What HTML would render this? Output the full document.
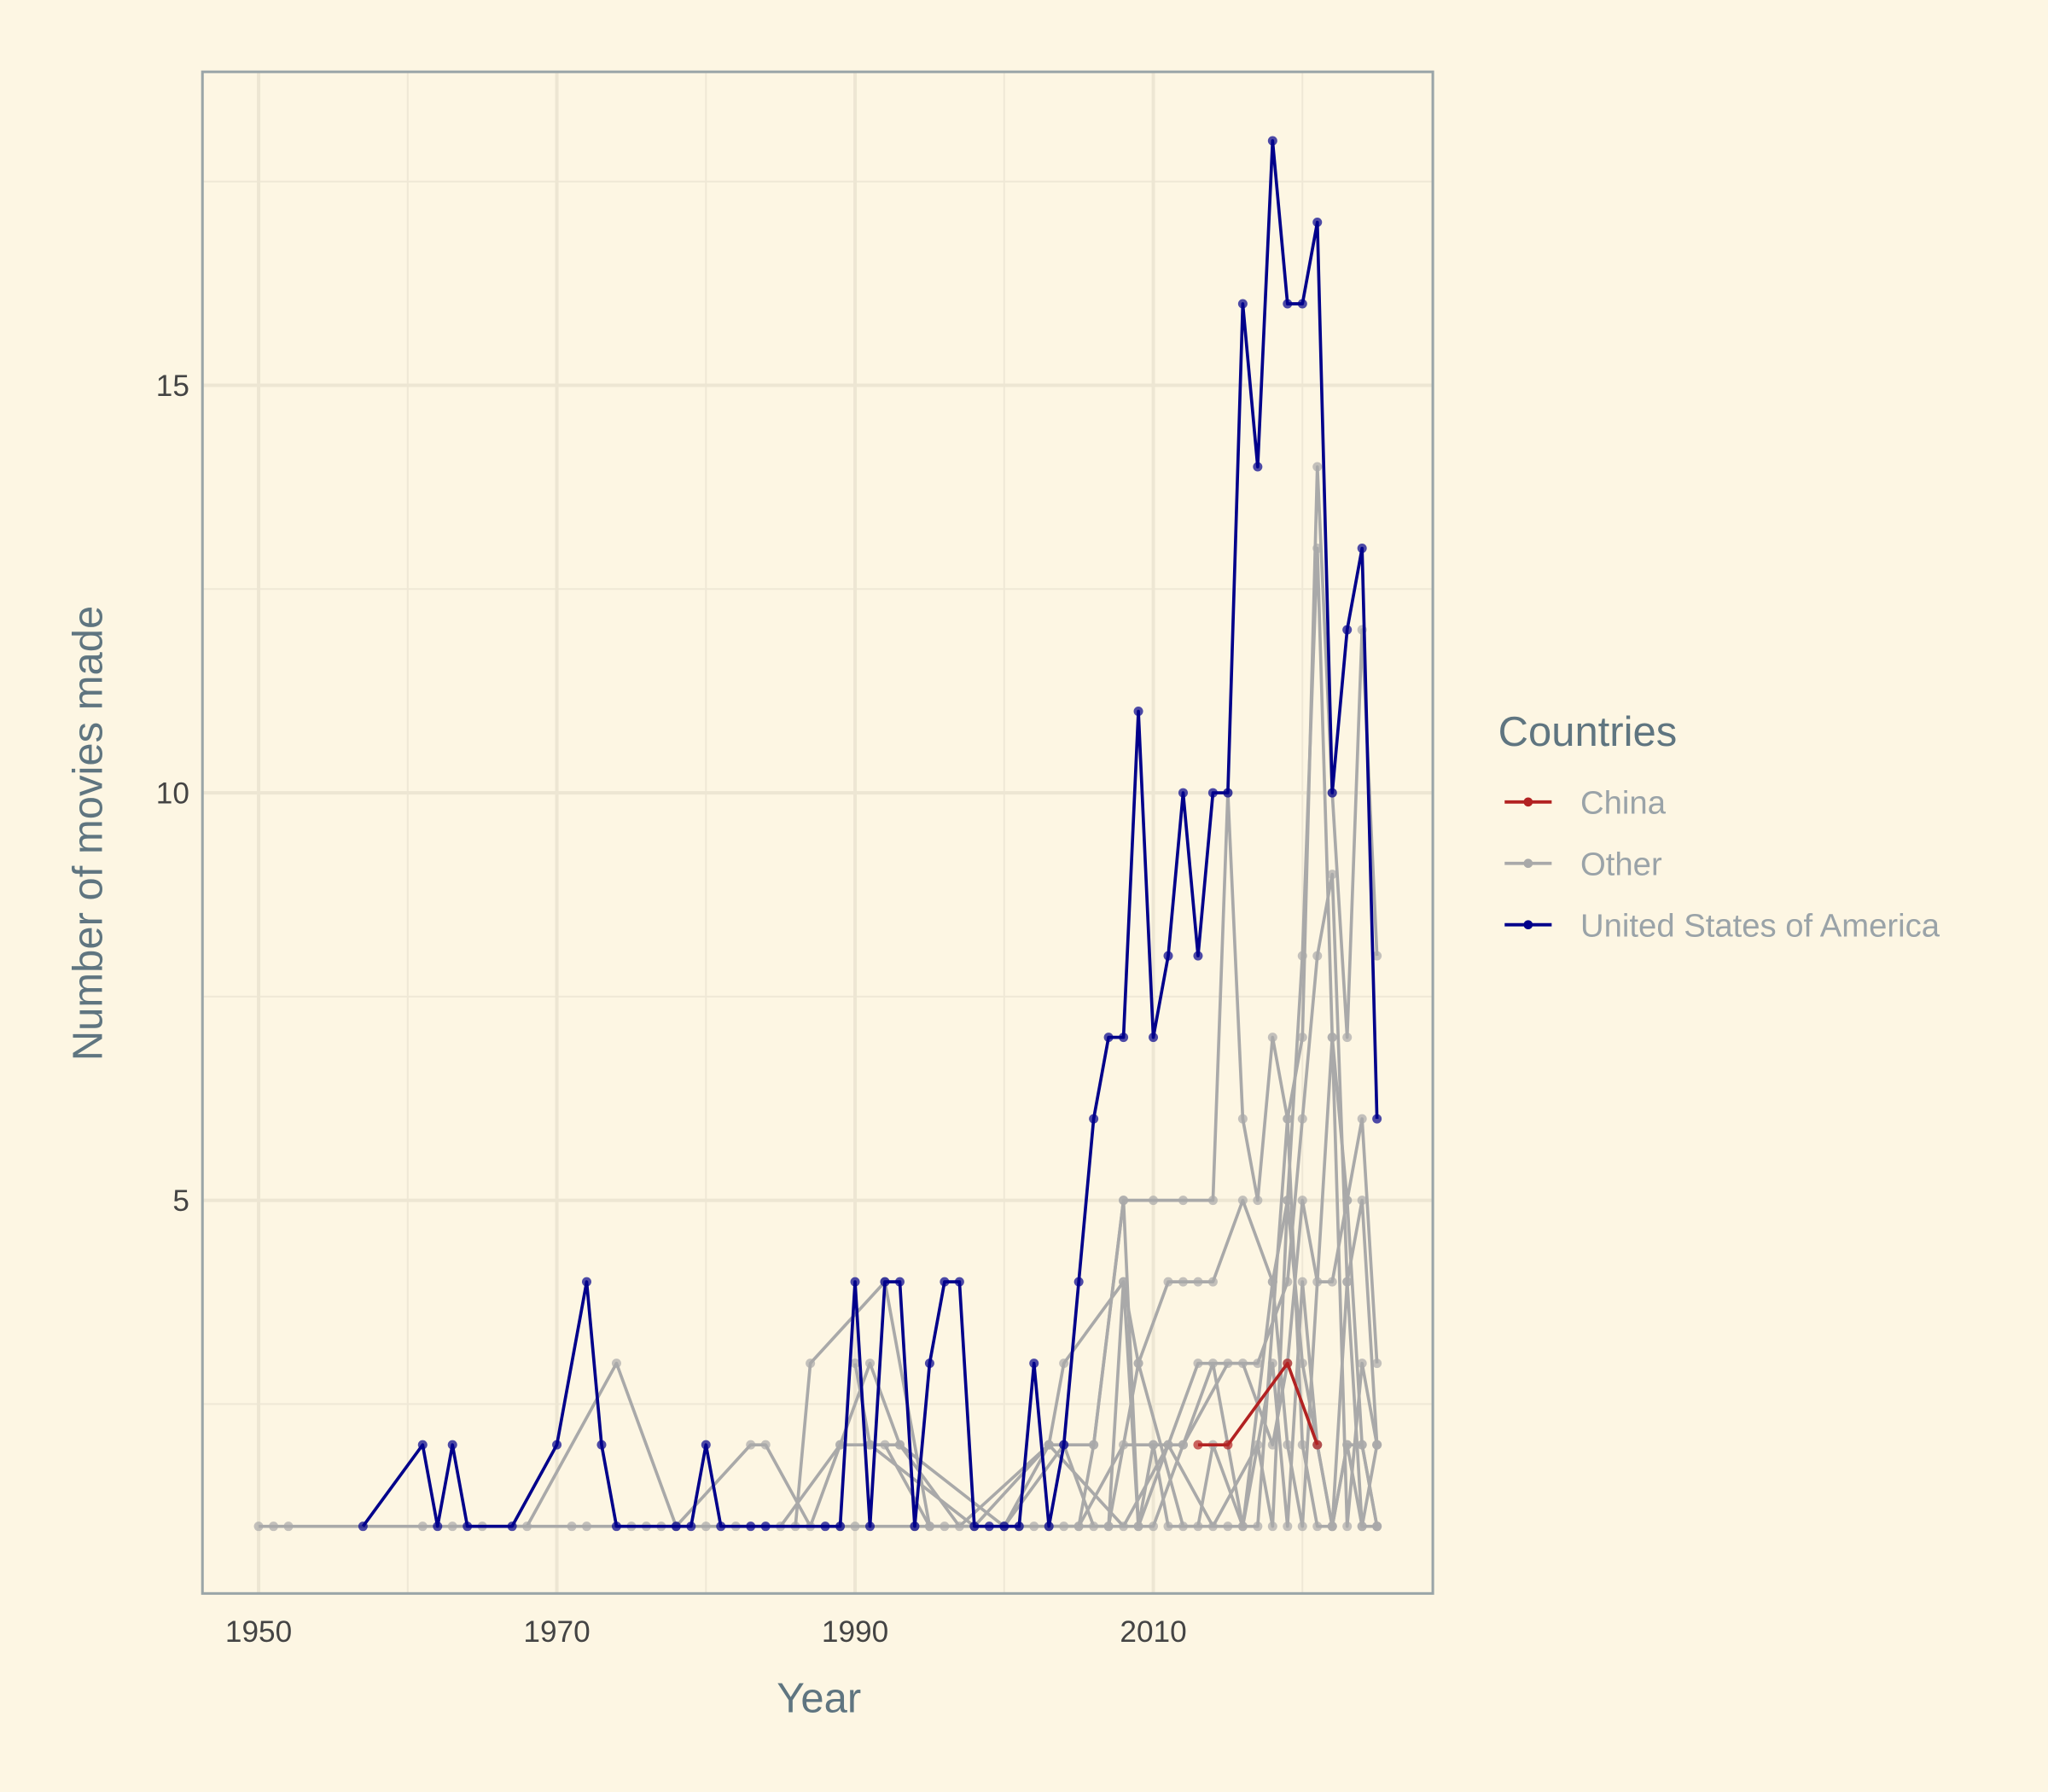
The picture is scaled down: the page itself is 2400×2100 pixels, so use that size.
<!DOCTYPE html>
<html><head><meta charset="utf-8"><style>
html,body{margin:0;padding:0;background:#fdf6e3;}
svg{display:block;font-family:"Liberation Sans",Arial,sans-serif;}
</style></head><body>
<svg id="chart" width="2400" height="2100" viewBox="0 0 1568 1372" xmlns="http://www.w3.org/2000/svg">
<rect x="0" y="0" width="1568" height="1372" fill="#fdf6e3"/>
<g id="grid"></g>
<g id="series"></g>
<rect x="155" y="55" width="942" height="1165" fill="none" stroke="#9aa5a8" stroke-width="2"/>
<g id="axes"></g>
<text x="627" y="1311" text-anchor="middle" font-size="32" fill="#5f7580">Year</text>
<text x="78" y="638" text-anchor="middle" font-size="32" fill="#5f7580" transform="rotate(-90 78 638)">Number of movies made</text>
<g>
<text x="1147" y="571" font-size="32" fill="#5f7580">Countries</text>
<g><line x1="1152" y1="614" x2="1188" y2="614" stroke="#b22222" stroke-width="2.5"/><circle cx="1170" cy="614" r="3.5" fill="#b22222"/><text x="1210" y="623" font-size="25" fill="#9aa3a8">China</text></g>
<g><line x1="1152" y1="661" x2="1188" y2="661" stroke="#a9a9a9" stroke-width="2.5"/><circle cx="1170" cy="661" r="3.5" fill="#a9a9a9"/><text x="1210" y="670" font-size="25" fill="#9aa3a8">Other</text></g>
<g><line x1="1152" y1="708" x2="1188" y2="708" stroke="#00008b" stroke-width="2.5"/><circle cx="1170" cy="708" r="3.5" fill="#00008b"/><text x="1210" y="717" font-size="25" fill="#9aa3a8">United States of America</text></g>
</g>
</svg>
<script>
const xTicks=[1950,1970,1990,2010];
const xMinor=[1960,1980,2000,2020];
const yTicks=[5,10,15];
const yMinor=[2.5,7.5,12.5,17.5];
const usaYears=[1957,1961,1962,1963,1964,1967,1970,1972,1973,1974,1978,1979,1980,1981,1983,1984,1988,1989,1990,1991,1992,1993,1994,1995,1996,1997,1998,1999,2000,2001,2002,2003,2004,2005,2006,2007,2008,2009,2010,2011,2012,2013,2014,2015,2016,2017,2018,2019,2020,2021,2022,2023,2024,2025];
const usaValues=[1,2,1,2,1,1,2,4,2,1,1,1,2,1,1,1,1,1,4,1,4,4,1,3,4,4,1,1,1,1,3,1,2,4,6,7,7,11,7,8,10,8,10,10,16,14,18,16,16,17,10,12,13,6];
const chinaYears=[2013,2015,2019,2021];
const chinaValues=[2,2,3,2];
const other1Years=[1950,1951,1952,1961,1965,1968,1974,1978,1983,1984,1987,1989,1991,1993,1997,2003,2006,2008,2010,2012,2014,2015,2016,2017,2018,2019,2020,2021,2022,2023,2024,2025];
const other1Values=[1,1,1,1,1,1,3,1,2,2,1,2,3,2,1,2,2,5,5,5,5,10,6,5,7,6,7,14,10,7,12,8];
const other2Years=[1963,1971,1972,1975,1976,1977,1980,1982,1986,1987,1992,1995,2000,2003,2004,2008,2009,2011,2012,2013,2014,2016,2018,2019,2020,2021,2022,2023,2024,2025];
const other2Values=[1,1,1,1,1,1,1,1,1,3,4,1,1,2,3,4,3,4,4,4,4,5,4,5,8,13,7,5,6,3];
const other3Years=[1990,1991,1992,1995,2001,2005,2008,2010,2012,2015,2017,2019,2020,2021,2022,2023,2024,2025];
const other3Values=[3,2,2,1,1,1,2,2,2,3,3,4,6,8,9,4,5,2];
const other4Years=[1989,1990,1994,1996,2002,2004,2007,2008,2009,2011,2013,2016,2018,2019,2020,2021,2022,2023,2024,2025];
const other4Values=[1,1,1,1,1,1,1,4,1,2,3,3,2,3,5,4,4,5,2,1];
const other5Years=[2005,2006,2008,2009,2010,2011,2013,2014,2016,2018,2019,2020,2022,2023,2024,2025];
const other5Values=[1,2,5,1,2,1,1,2,1,4,2,1,7,1,3,2];
const other6Years=[2003,2007,2009,2012,2015,2017,2019,2020,2021,2022,2023,2024,2025];
const other6Values=[1,1,3,1,1,1,6,2,1,1,2,1,1];
const other7Years=[1985,1989,1993,2000,2004,2006,2010,2012,2014,2016,2018,2019,2020,2021,2022,2023,2024,2025];
const other7Values=[1,2,2,1,2,1,1,2,3,1,3,1,4,2,1,4,1,2];
const other8Years=[1991,1998,2003,2008,2011,2014,2017,2018,2019,2020,2021,2022,2023,2024,2025];
const other8Values=[2,1,2,1,2,1,2,1,5,3,2,1,2,2,1];

const NS="http://www.w3.org/2000/svg";
function xs(v){return 198+(v-1950)*(883-198)/60;}
function ys(v){return 1231-v*62.4;}
function mk(tag,attrs,parent){const e=document.createElementNS(NS,tag);for(const k in attrs)e.setAttribute(k,attrs[k]);parent.appendChild(e);return e;}
const grid=document.getElementById('grid'),axes=document.getElementById('axes'),series=document.getElementById('series');
xMinor.forEach(v=>{const l=mk('line',{x1:xs(v),x2:xs(v),y1:55,y2:1220,stroke:'#efe8d6','stroke-width':1.3},grid);

});
yMinor.forEach(v=>{const l=mk('line',{x1:155,x2:1097,y1:ys(v),y2:ys(v),stroke:'#efe8d6','stroke-width':1.3},grid);

});
xTicks.forEach(v=>{const l=mk('line',{x1:xs(v),x2:xs(v),y1:55,y2:1220,stroke:'#ede6d3','stroke-width':2.6},grid);


const t=mk('text',{x:xs(v),y:1257,'text-anchor':'middle','font-size':23,fill:'#444'},axes);t.textContent=v;

});
yTicks.forEach(v=>{const l=mk('line',{x1:155,x2:1097,y1:ys(v),y2:ys(v),stroke:'#ede6d3','stroke-width':2.6},grid);


const t=mk('text',{x:145,y:ys(v)+8,'text-anchor':'end','font-size':23,fill:'#444'},axes);t.textContent=v;

});
function draw(years,vals,color,name){
  const g=mk('g',{},series);
  
  
  const pts=years.map((y,i)=>xs(y)+','+ys(vals[i])).join(' ');
  const p=mk('polyline',{points:pts,fill:'none',stroke:color,'stroke-width':2.4,'stroke-linejoin':'round'},g);
  
  
  years.forEach((y,i)=>{const c=mk('circle',{cx:xs(y),cy:ys(vals[i]),r:3.6,fill:color,'fill-opacity':0.7},g);
  
  });
}
const grey='#a9a9a9';
draw(other1Years,other1Values,grey,'other-series-1');
draw(other2Years,other2Values,grey,'other-series-2');
draw(other3Years,other3Values,grey,'other-series-3');
draw(other4Years,other4Values,grey,'other-series-4');
draw(other5Years,other5Values,grey,'other-series-5');
draw(other6Years,other6Values,grey,'other-series-6');
draw(other7Years,other7Values,grey,'other-series-7');
draw(other8Years,other8Values,grey,'other-series-8');
draw(chinaYears,chinaValues,'#b22222','china-series');
draw(usaYears,usaValues,'#00008b','usa-series');
</script>
</body></html>
